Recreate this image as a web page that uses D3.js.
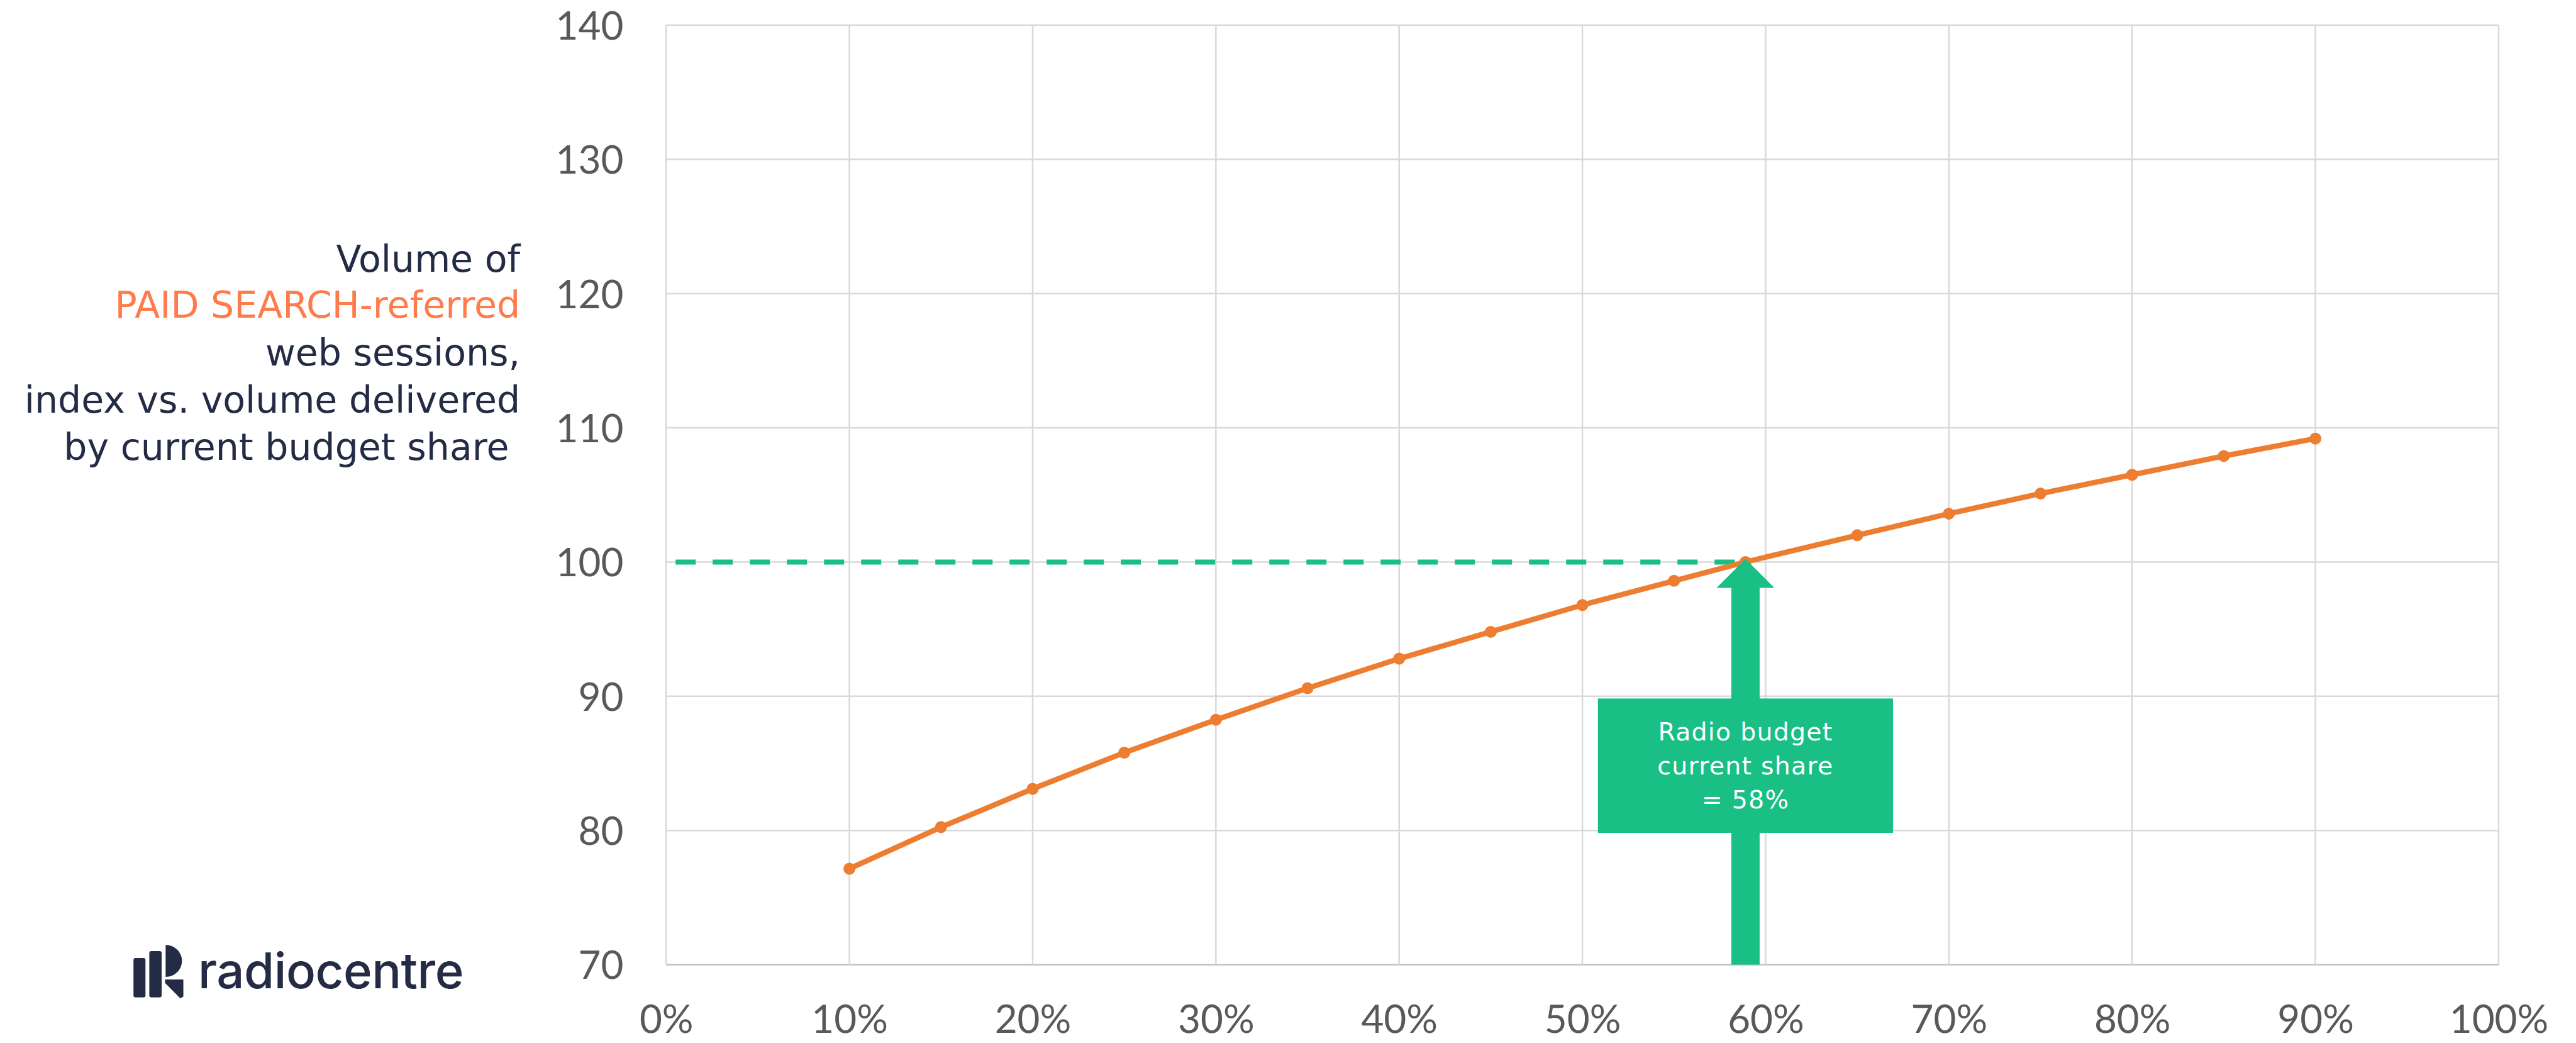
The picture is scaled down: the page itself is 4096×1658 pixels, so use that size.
<!DOCTYPE html>
<html>
<head>
<meta charset="utf-8">
<script src="https://cdn.jsdelivr.net/npm/d3@7"></script>
<style>
  html, body { margin: 0; padding: 0; background: #ffffff; }
  svg { display: block; }
</style>
</head>
<body>
<script>
// ---- data ----
const shares = [10, 15, 20, 25, 30, 35, 40, 45, 50, 55, 58.9, 65, 70, 75, 80, 85, 90];
const volumeIndex = [77.15, 80.25, 83.1, 85.8, 88.25, 90.6, 92.8, 94.8, 96.8, 98.6, 100, 102.0, 103.6, 105.1, 106.5, 107.9, 109.2];
const yTicks = [70, 80, 90, 100, 110, 120, 130, 140];
const xTicks = [0, 10, 20, 30, 40, 50, 60, 70, 80, 90, 100];
const currentShare = 58.9;
const referenceIndex = 100;
const titleLines = ["Volume of", "PAID SEARCH-referred", "web sessions,", "index vs. volume delivered", "by current budget share"];
const annotationLines = ["Radio budget", "current share", "= 58%"];
const brandName = "radiocentre";

// ---- layout ----
const W = 4096, H = 1658;
const k = 0.838;
const navy = "#232b45", orangeText = "#ff7b4b", lineOrange = "#ed7d31", green = "#19bf84";

const svg = d3.select("body").append("svg").attr("width", W).attr("height", H);

const x = d3.scaleLinear().domain([0, 100]).range([1264 * k, 4741 * k]);
const y = d3.scaleLinear().domain([70, 140]).range([1830 * k, 47.7 * k]);

// gridlines
const grid = svg.append("g");
grid.selectAll("line.h").data(yTicks).join("line")
  .attr("x1", x(0)).attr("x2", x(100))
  .attr("y1", d => y(d)).attr("y2", d => y(d))
  .attr("stroke", d => d === 70 ? "#bfbfbf" : "#d9d9d9")
  .attr("stroke-width", 2.5);
grid.selectAll("line.v").data(xTicks).join("line")
  .attr("x1", d => x(d)).attr("x2", d => x(d))
  .attr("y1", y(140)).attr("y2", y(70))
  .attr("stroke", "#d9d9d9").attr("stroke-width", 2.5);

// axes labels via d3 axes
const yAxis = d3.axisLeft(y).tickValues(yTicks).tickSize(0).tickPadding(0).tickFormat(d3.format("d"));
const gy = svg.append("g").attr("transform", `translate(${991 * k + 0},0)`).call(yAxis);
gy.select(".domain").remove();
gy.selectAll("text").attr("font-family", "Lato, 'Open Sans', sans-serif").attr("font-size", 62)
  .attr("fill", "#595959").attr("dy", "0.36em").attr("x", 0).attr("text-anchor", "end");
gy.attr("transform", `translate(${1183 * k},0)`);

const xAxis = d3.axisBottom(x).tickValues(xTicks).tickSize(0).tickPadding(0).tickFormat(d => d + "%");
const gx = svg.append("g").attr("transform", `translate(0,${1960 * k})`).call(xAxis);
gx.select(".domain").remove();
gx.selectAll("text").attr("font-family", "Lato, 'Open Sans', sans-serif").attr("font-size", 62)
  .attr("fill", "#595959").attr("dy", 0).attr("y", 0);

// dashed reference line
svg.append("line")
  .attr("x1", x(0)).attr("x2", x(currentShare))
  .attr("y1", y(referenceIndex)).attr("y2", y(referenceIndex))
  .attr("stroke", green).attr("stroke-width", 8)
  .attr("stroke-dasharray", "32 27").attr("stroke-dashoffset", 44);

// series line
const pts = shares.map((s, i) => [s, volumeIndex[i]]);
svg.append("path").datum(pts)
  .attr("d", d3.line().x(d => x(d[0])).y(d => y(d[1])))
  .attr("fill", "none").attr("stroke", lineOrange).attr("stroke-width", 8.5)
  .attr("stroke-linejoin", "round");
svg.selectAll("circle.pt").data(pts).join("circle")
  .attr("cx", d => x(d[0])).attr("cy", d => y(d[1])).attr("r", 9.5)
  .attr("fill", lineOrange);

// arrow annotation
const ax = x(currentShare);
const tipY = y(referenceIndex) - 5;
const headBase = tipY + 46;
const headHalf = 46, shaftHalf = 22.5;
svg.append("path")
  .attr("d", `M${ax},${tipY} L${ax + headHalf},${headBase} L${ax + shaftHalf},${headBase} L${ax + shaftHalf},${y(70)} L${ax - shaftHalf},${y(70)} L${ax - shaftHalf},${headBase} L${ax - headHalf},${headBase} Z`)
  .attr("fill", green);

const boxW = 560 * k, boxH = 255 * k;
const boxTop = 1325 * k;
svg.append("rect")
  .attr("x", ax - boxW / 2).attr("y", boxTop)
  .attr("width", boxW).attr("height", boxH)
  .attr("fill", green);
svg.append("g").selectAll("text").data(annotationLines).join("text")
  .attr("x", ax).attr("y", (d, i) => (1404 + i * 64.5) * k)
  .attr("text-anchor", "middle")
  .attr("font-family", "'DejaVu Sans', sans-serif").attr("font-size", 39.5)
  .attr("letter-spacing", 1.2)
  .attr("fill", "#ffffff").text(d => d);

// title (axis description)
const titleBase = [515, 603, 693, 783, 872];
const titleRight = [987, 987, 987, 987, 966];
svg.append("g").selectAll("text").data(titleLines).join("text")
  .attr("x", (d, i) => titleRight[i] * k).attr("y", (d, i) => titleBase[i] * k)
  .attr("text-anchor", "end")
  .attr("font-family", "'DejaVu Sans', sans-serif").attr("font-size", 58.5)
  .attr("fill", (d, i) => i === 1 ? orangeText : navy)
  .text(d => d);

// logo
const logo = svg.append("g").attr("fill", navy);
logo.append("rect").attr("x", 253.3 * k).attr("y", 1817.3 * k).attr("width", 22.7 * k).attr("height", 74.7 * k).attr("rx", 3);
logo.append("rect").attr("x", 283.3 * k).attr("y", 1804.3 * k).attr("width", 23.4 * k).attr("height", 87.7 * k).attr("rx", 3);
logo.append("path")
  .attr("d", `M${314.3 * k},${1792.3 * k} A${31 * k},${30.5 * k} 0 0 1 ${314.3 * k},${1853.3 * k} Z`);
logo.append("path")
  .attr("d", `M${314.3 * k},${1859.3 * k} L${346.7 * k},${1859.3 * k} L${346.7 * k},${1890 * k} L${342 * k},${1892 * k} L${314.3 * k},${1864 * k} Z`)
  .attr("stroke", navy).attr("stroke-width", 2).attr("stroke-linejoin", "round");
logo.append("text")
  .attr("x", 376 * k).attr("y", 1874.3 * k)
  .attr("font-family", "Inter, 'Noto Sans', sans-serif").attr("font-weight", 500)
  .attr("font-size", 93 * k).attr("letter-spacing", -0.5)
  .text(brandName);
</script>
</body>
</html>
